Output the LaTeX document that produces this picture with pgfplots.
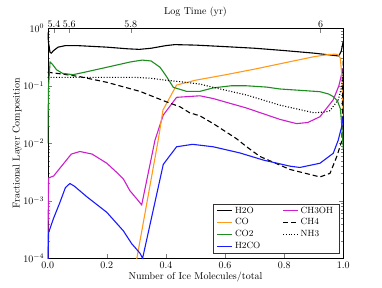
\documentclass[border=0pt]{standalone}
\usepackage{pgfplots}
\pgfplotsset{compat=1.18}
\definecolor{cOrange}{HTML}{FF9A1A}
\definecolor{cGreen}{HTML}{1E8C1E}
\definecolor{cMag}{HTML}{CC1ECC}
\definecolor{cBlue}{HTML}{1A1AFF}
\newcommand\ls{\rule[-3.8pt]{0pt}{9.4pt}}
\begin{document}
\begin{tikzpicture}
\useasboundingbox (-47.7pt,-28.7pt) rectangle (334.3pt,258.3pt);
\begin{axis}[
  at={(0,0)}, anchor=south west,
  scale only axis, width=295.6pt, height=230pt,
  xmin=0, xmax=1, ymin=1e-4, ymax=1,
  ymode=log,
  xtick={0,0.2,0.4,0.6,0.8,1.0},
  xticklabel style={/pgf/number format/fixed, /pgf/number format/fixed zerofill, /pgf/number format/precision=1},
  xtick pos=left, ytick pos=both,
  tick align=inside,
  major tick length=4.5pt, minor tick length=2.5pt,
  ytick={1e-4,1e-3,1e-2,1e-1,1},
  minor ytick={2e-4,3e-4,4e-4,5e-4,6e-4,7e-4,8e-4,9e-4,2e-3,3e-3,4e-3,5e-3,6e-3,7e-3,8e-3,9e-3,2e-2,3e-2,4e-2,5e-2,6e-2,7e-2,8e-2,9e-2,0.2,0.3,0.4,0.5,0.6,0.7,0.8,0.9},
  xlabel={Number of Ice Molecules/total},
  ylabel={Fractional Layer Composition},
  xlabel style={yshift=3pt},
  ylabel style={yshift=-5pt},
  legend columns=2,
  legend image code/.code={\draw[mark repeat=2,mark phase=2,#1] plot coordinates {(0pt,0pt) (7.5pt,0pt) (15pt,0pt)};},
  legend image post style={line width=1.3pt},
  legend style={at={(0.9865,0.0217)}, anchor=south east, font=\small, draw=black!80, fill=white, inner xsep=4pt, inner ysep=1pt, /tikz/every even column/.append style={column sep=20pt}},
  legend cell align=left,
]
\addplot[black, line width=1.1pt] coordinates {(0,0.85) (0.003,0.55) (0.008,0.38) (0.012,0.37) (0.02,0.41) (0.035,0.47) (0.06,0.5) (0.1,0.5) (0.2,0.47) (0.27,0.44) (0.31,0.43) (0.35,0.45) (0.4,0.5) (0.43,0.52) (0.5,0.51) (0.6,0.48) (0.7,0.45) (0.8,0.41) (0.9,0.37) (0.985,0.33) (0.993,0.4) (1.0,0.6)};
\addlegendentry{\ls H2O}
\addplot[cMag, line width=1.1pt] coordinates {(0,5e-5) (0.003,0.0025) (0.02,0.0027) (0.05,0.0042) (0.08,0.0065) (0.109,0.0072) (0.15,0.0065) (0.2,0.0045) (0.24,0.0029) (0.256,0.0024) (0.278,0.0015) (0.3,0.0011) (0.318,0.00085) (0.363,0.0114) (0.391,0.031) (0.436,0.063) (0.515,0.067) (0.56,0.06) (0.673,0.041) (0.786,0.026) (0.842,0.022) (0.88,0.023) (0.921,0.029) (0.966,0.057) (0.985,0.1) (0.995,0.165) (1.0,0.2)};
\addlegendentry{\ls CH3OH}
\addplot[cOrange, line width=1.1pt] coordinates {(0.300,9e-5) (0.374,0.0115) (0.39,0.038) (0.436,0.103) (0.5,0.125) (0.6,0.155) (0.7,0.195) (0.8,0.25) (0.9,0.32) (0.95,0.35) (0.975,0.355) (0.985,0.34) (0.99,0.3) (0.995,0.15) (1.0,0.03)};
\addlegendentry{\ls CO}
\addplot[black, line width=1.1pt, dash pattern=on 5pt off 3pt] coordinates {(0,0.172) (0.05,0.16) (0.109,0.144) (0.2,0.115) (0.312,0.08) (0.4,0.053) (0.448,0.043) (0.48,0.034) (0.515,0.030) (0.56,0.022) (0.639,0.012) (0.673,0.0087) (0.718,0.0059) (0.82,0.0035) (0.921,0.0026) (0.955,0.003) (0.978,0.0059) (0.995,0.011) (1.0,0.3)};
\addlegendentry{\ls CH4}
\addplot[cGreen, line width=1.1pt] coordinates {(0,0.01) (0.003,0.1) (0.008,0.26) (0.015,0.24) (0.03,0.19) (0.05,0.165) (0.085,0.156) (0.12,0.17) (0.2,0.21) (0.28,0.26) (0.32,0.28) (0.35,0.27) (0.38,0.21) (0.4,0.15) (0.425,0.094) (0.47,0.08) (0.515,0.08) (0.56,0.092) (0.62,0.1) (0.673,0.1) (0.74,0.095) (0.786,0.088) (0.86,0.083) (0.921,0.079) (0.95,0.072) (0.966,0.065) (0.98,0.055) (0.99,0.04) (0.995,0.02) (1.0,0.008)};
\addlegendentry{\ls CO2}
\addplot[black, line width=1.1pt, dash pattern=on 1pt off 1.8pt] coordinates {(0,0.14) (0.1,0.14) (0.2,0.14) (0.3,0.14) (0.35,0.135) (0.4,0.125) (0.448,0.118) (0.515,0.107) (0.56,0.094) (0.673,0.069) (0.786,0.046) (0.9,0.034) (0.94,0.035) (0.955,0.037) (0.983,0.057) (0.995,0.1) (1.0,0.2)};
\addlegendentry{\ls NH3}
\addplot[cBlue, line width=1.1pt] coordinates {(0,5e-5) (0.003,0.00028) (0.02,0.0005) (0.04,0.0009) (0.06,0.0017) (0.075,0.002) (0.09,0.0018) (0.132,0.00118) (0.2,0.00063) (0.256,0.0003) (0.284,0.00018) (0.312,0.000123) (0.321,0.0001) (0.391,0.0043) (0.436,0.0087) (0.49,0.0096) (0.56,0.0087) (0.65,0.0068) (0.73,0.0051) (0.82,0.004) (0.853,0.0038) (0.921,0.0045) (0.966,0.0067) (0.983,0.0114) (0.995,0.02) (1.0,0.03)};
\addlegendentry{\ls H2CO}
\end{axis}
\begin{axis}[
  at={(0,0)}, anchor=south west,
  scale only axis, width=295.6pt, height=230pt,
  xmin=0, xmax=1, ymin=0, ymax=1,
  axis x line*=top, axis y line=none,
  tick align=inside, major tick length=4.5pt,
  xtick={0.021,0.073,0.281,0.923},
  xticklabels={5.4,5.6,5.8,6},
  xticklabel style={yshift=-2.5pt},
  xlabel={Log Time (yr)},
  xlabel style={yshift=-4pt},
]
\end{axis}
\end{tikzpicture}
\end{document}
